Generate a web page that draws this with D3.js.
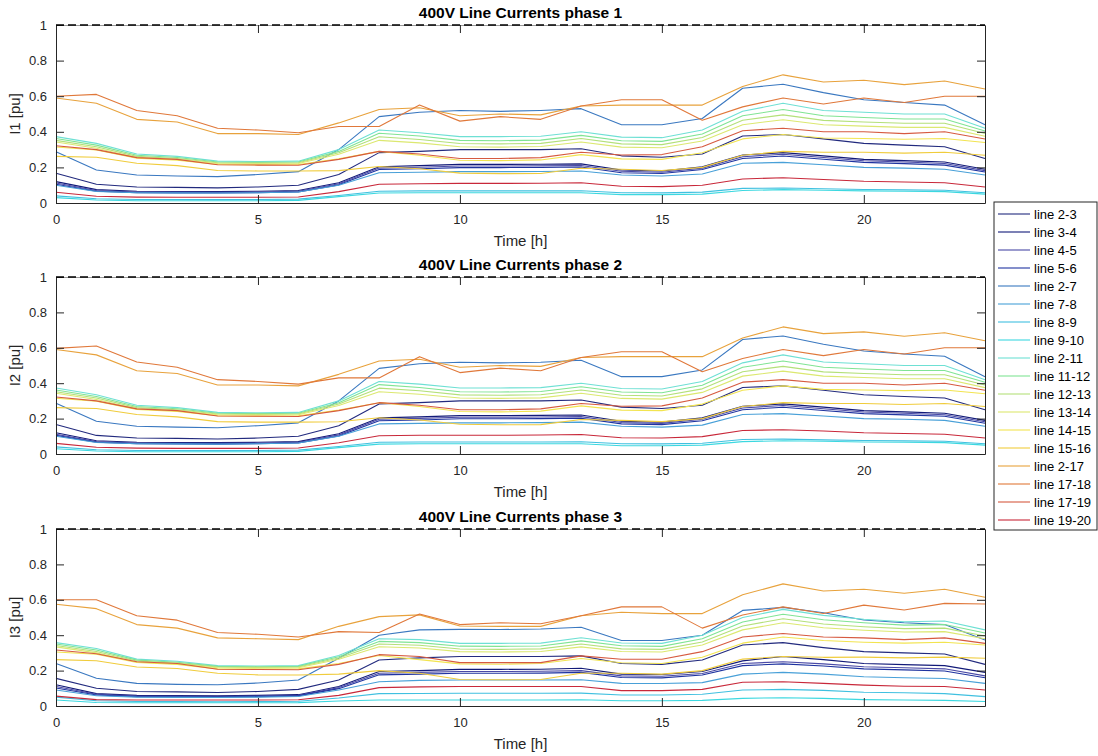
<!DOCTYPE html>
<html>
<head>
<meta charset="utf-8">
<script src="https://cdn.jsdelivr.net/npm/d3@7"></script>
<style>
  body { margin: 0; background: #fff; }
  svg { display: block; }
  text { font-family: "Liberation Sans", Arial, Helvetica, sans-serif; }
</style>
</head>
<body>
<svg id="chart" width="1098" height="756"></svg>
<script>
// Hour of day for each sample
const hours = [0,1,2,3,4,5,6,7,8,9,10,11,12,13,14,15,16,17,18,19,20,21,22,23];

const lineNames = ["line 2-3","line 3-4","line 4-5","line 5-6","line 2-7","line 7-8","line 8-9","line 9-10",
  "line 2-11","line 11-12","line 12-13","line 13-14","line 14-15","line 15-16","line 2-17","line 17-18","line 17-19","line 19-20"];

const lineColors = ["#222a7e","#121a78","#4a4aa6","#1f33a0","#3a78c0","#48a0d8","#40c0e0","#3cd8e0",
  "#6ee0d4","#80e494","#b4e07a","#dce870","#f2e450","#f0cc3c","#e8a23c","#e0783a","#d65a40","#c8283a"];

const phaseTitles = ["400V Line Currents phase 1","400V Line Currents phase 2","400V Line Currents phase 3"];
const yLabels = ["I1 [pu]","I2 [pu]","I3 [pu]"];
const xLabel = "Time [h]";
const xTicks = [0,5,10,15,20];
const yTicks = [0,0.2,0.4,0.6,0.8,1];
const currentLimit = 1;

// Line currents in pu, one row per line (same order as lineNames)
const phase1 = [
  [.167,.105,.090,.088,.085,.090,.100,.160,.283,.290,.300,.300,.300,.305,.265,.257,.275,.376,.385,.360,.335,.325,.316,.250],
  [.120,.075,.066,.065,.064,.066,.070,.114,.204,.210,.217,.217,.218,.220,.185,.180,.204,.270,.283,.265,.245,.238,.230,.190],
  [.112,.070,.062,.061,.060,.062,.066,.108,.196,.201,.208,.208,.209,.211,.178,.173,.196,.260,.274,.256,.237,.230,.222,.182],
  [.105,.066,.058,.057,.056,.058,.062,.102,.188,.192,.199,.199,.200,.202,.170,.166,.188,.250,.264,.246,.228,.221,.213,.174],
  [.288,.185,.157,.152,.148,.160,.176,.300,.485,.510,.520,.515,.520,.530,.440,.440,.475,.645,.667,.620,.580,.565,.550,.440],
  [.100,.065,.058,.057,.056,.058,.062,.100,.170,.173,.176,.176,.177,.180,.157,.152,.163,.223,.228,.215,.200,.196,.190,.157],
  [.040,.024,.020,.020,.019,.020,.022,.042,.066,.068,.068,.068,.068,.069,.058,.057,.061,.082,.084,.080,.076,.074,.072,.058],
  [.030,.017,.013,.013,.013,.013,.015,.036,.056,.058,.058,.058,.058,.058,.047,.047,.050,.070,.075,.072,.068,.066,.064,.050],
  [.373,.335,.275,.262,.235,.233,.235,.300,.410,.395,.373,.373,.375,.400,.370,.367,.410,.515,.560,.520,.510,.500,.500,.420],
  [.362,.325,.268,.256,.230,.228,.230,.290,.392,.376,.352,.350,.353,.380,.350,.346,.388,.490,.525,.490,.480,.472,.472,.405],
  [.352,.316,.262,.250,.226,.224,.226,.282,.372,.357,.334,.332,.335,.362,.332,.328,.368,.465,.495,.464,.455,.448,.448,.390],
  [.343,.308,.256,.245,.222,.220,.222,.274,.352,.338,.316,.314,.317,.343,.314,.310,.348,.440,.468,.440,.432,.425,.425,.375],
  [.315,.298,.252,.241,.216,.214,.216,.248,.290,.268,.240,.238,.242,.272,.248,.245,.282,.360,.385,.365,.362,.358,.362,.340],
  [.262,.257,.223,.210,.183,.180,.180,.182,.205,.192,.168,.165,.166,.195,.190,.183,.200,.268,.290,.285,.285,.280,.285,.268],
  [.590,.560,.470,.455,.390,.390,.385,.450,.525,.535,.490,.500,.495,.545,.550,.550,.550,.655,.720,.680,.690,.665,.685,.640],
  [.600,.610,.520,.490,.420,.410,.395,.430,.430,.550,.460,.485,.470,.545,.580,.580,.465,.540,.590,.556,.590,.565,.600,.600],
  [.322,.300,.255,.245,.215,.213,.212,.245,.290,.275,.250,.250,.255,.285,.270,.272,.316,.406,.420,.400,.400,.390,.400,.360],
  [.060,.038,.033,.032,.032,.032,.034,.064,.105,.108,.110,.110,.111,.114,.094,.092,.100,.135,.142,.132,.122,.118,.114,.090]
];

const phase2 = [
  [.167,.105,.090,.088,.085,.090,.100,.160,.283,.290,.300,.300,.300,.305,.265,.257,.275,.376,.385,.360,.335,.325,.316,.250],
  [.120,.075,.066,.065,.064,.066,.070,.114,.204,.210,.217,.217,.218,.220,.185,.180,.204,.270,.283,.265,.245,.238,.230,.190],
  [.112,.070,.062,.061,.060,.062,.066,.108,.196,.201,.208,.208,.209,.211,.178,.173,.196,.260,.274,.256,.237,.230,.222,.182],
  [.105,.066,.058,.057,.056,.058,.062,.102,.188,.192,.199,.199,.200,.202,.170,.166,.188,.250,.264,.246,.228,.221,.213,.174],
  [.287,.185,.157,.152,.148,.160,.176,.300,.484,.510,.518,.515,.518,.530,.437,.437,.475,.647,.667,.620,.582,.565,.552,.437],
  [.100,.065,.058,.057,.056,.058,.062,.100,.170,.173,.176,.176,.177,.180,.157,.152,.163,.223,.228,.215,.200,.196,.190,.157],
  [.040,.024,.020,.020,.019,.020,.022,.042,.066,.068,.068,.068,.068,.069,.058,.057,.061,.082,.084,.080,.076,.074,.072,.058],
  [.030,.017,.013,.013,.013,.013,.015,.036,.056,.058,.058,.058,.058,.058,.047,.047,.050,.070,.075,.072,.068,.066,.064,.050],
  [.373,.335,.275,.262,.235,.233,.235,.300,.410,.395,.373,.373,.375,.400,.370,.367,.410,.515,.560,.520,.510,.500,.500,.420],
  [.362,.325,.268,.256,.230,.228,.230,.290,.392,.376,.352,.350,.353,.380,.350,.346,.388,.490,.525,.490,.480,.472,.472,.405],
  [.352,.316,.262,.250,.226,.224,.226,.282,.372,.357,.334,.332,.335,.362,.332,.328,.368,.465,.495,.464,.455,.448,.448,.390],
  [.343,.308,.256,.245,.222,.220,.222,.274,.352,.338,.316,.314,.317,.343,.314,.310,.348,.440,.468,.440,.432,.425,.425,.375],
  [.315,.298,.252,.241,.216,.214,.216,.248,.290,.268,.240,.238,.242,.272,.248,.245,.282,.360,.385,.365,.362,.358,.362,.340],
  [.262,.257,.223,.210,.183,.180,.180,.182,.205,.192,.168,.165,.166,.195,.190,.183,.200,.268,.290,.285,.285,.280,.285,.268],
  [.590,.560,.470,.455,.390,.390,.385,.450,.525,.535,.490,.500,.495,.545,.550,.550,.550,.655,.718,.680,.690,.665,.685,.640],
  [.597,.610,.520,.490,.420,.410,.395,.430,.430,.550,.460,.485,.470,.545,.578,.578,.465,.540,.590,.556,.590,.565,.600,.600],
  [.322,.300,.255,.245,.215,.213,.212,.245,.290,.275,.250,.250,.255,.285,.270,.272,.316,.406,.420,.400,.400,.390,.400,.360],
  [.060,.038,.033,.032,.032,.032,.034,.064,.103,.106,.106,.106,.107,.110,.092,.090,.098,.133,.137,.130,.120,.116,.112,.090]
];

const phase3 = [
  [.156,.100,.082,.080,.076,.082,.094,.147,.260,.272,.280,.280,.280,.283,.240,.235,.260,.345,.358,.330,.307,.300,.294,.235],
  [.120,.070,.060,.059,.058,.060,.064,.110,.195,.200,.207,.207,.208,.213,.180,.178,.195,.255,.280,.262,.240,.234,.228,.190],
  [.110,.066,.056,.055,.054,.056,.060,.104,.185,.190,.195,.195,.196,.200,.170,.168,.184,.240,.250,.238,.222,.216,.210,.170],
  [.102,.062,.053,.052,.051,.053,.057,.098,.176,.180,.185,.185,.186,.190,.161,.159,.175,.228,.238,.226,.210,.204,.198,.160],
  [.240,.157,.128,.122,.120,.130,.147,.270,.400,.430,.433,.432,.435,.445,.370,.370,.400,.540,.557,.527,.486,.470,.460,.373],
  [.090,.058,.050,.049,.048,.050,.054,.090,.137,.145,.147,.147,.147,.148,.128,.127,.132,.180,.190,.180,.165,.160,.155,.128],
  [.050,.030,.025,.025,.024,.025,.027,.045,.070,.071,.072,.072,.072,.073,.062,.062,.066,.090,.094,.088,.078,.075,.070,.053],
  [.034,.020,.018,.018,.018,.018,.019,.028,.034,.034,.034,.034,.034,.035,.030,.030,.032,.043,.047,.043,.036,.034,.032,.025],
  [.358,.325,.265,.253,.228,.226,.228,.285,.380,.375,.354,.354,.355,.386,.356,.354,.400,.500,.546,.512,.490,.476,.480,.430],
  [.350,.316,.259,.247,.224,.222,.224,.278,.365,.358,.338,.337,.339,.368,.340,.337,.380,.475,.518,.487,.470,.457,.460,.412],
  [.342,.308,.254,.242,.220,.218,.220,.271,.350,.343,.322,.320,.323,.350,.323,.320,.362,.452,.493,.463,.448,.437,.440,.395],
  [.334,.300,.249,.237,.216,.214,.216,.264,.335,.328,.307,.305,.308,.334,.308,.305,.345,.430,.470,.442,.428,.418,.420,.380],
  [.305,.292,.246,.235,.210,.208,.210,.240,.285,.262,.238,.236,.240,.268,.244,.240,.275,.355,.390,.370,.360,.355,.360,.345],
  [.262,.256,.220,.212,.185,.176,.175,.180,.200,.185,.150,.148,.150,.185,.185,.180,.200,.265,.280,.275,.276,.272,.276,.270],
  [.575,.550,.460,.440,.385,.380,.375,.450,.505,.515,.452,.450,.450,.510,.530,.522,.522,.628,.690,.650,.660,.637,.660,.614],
  [.600,.600,.510,.485,.415,.405,.390,.420,.415,.520,.460,.470,.465,.510,.560,.560,.440,.514,.560,.523,.570,.542,.580,.576],
  [.316,.295,.250,.240,.208,.206,.205,.235,.290,.280,.245,.245,.245,.283,.264,.264,.307,.390,.410,.390,.385,.375,.385,.354],
  [.056,.036,.034,.034,.034,.034,.035,.060,.104,.108,.110,.110,.110,.110,.087,.087,.094,.134,.137,.128,.118,.112,.110,.090]
];

const phases = [phase1, phase2, phase3];

// ---- layout ----
const svg = d3.select("#chart");
const plotLeft = 56, plotRight = 985;
const panels = [{top: 25, bottom: 203}, {top: 277, bottom: 454}, {top: 529, bottom: 706}];
const axisColor = "#262626";
const tickLen = 8;

const x = d3.scaleLinear().domain([0, 23]).range([plotLeft, plotRight]);

panels.forEach((p, pi) => {
  const y = d3.scaleLinear().domain([0, 1]).range([p.bottom, p.top]);
  const g = svg.append("g");

  // data lines
  const line = d3.line().x((d, i) => x(hours[i])).y(d => y(d));
  g.append("g").selectAll("path")
    .data(phases[pi])
    .join("path")
    .attr("d", line)
    .attr("fill", "none")
    .attr("stroke", (d, i) => lineColors[i])
    .attr("stroke-width", 1.1)
    .attr("stroke-linejoin", "round");

  // axes with inward ticks on all four sides
  const styleAxis = sel => {
    sel.selectAll(".domain").attr("stroke", axisColor).attr("stroke-width", 1);
    sel.selectAll(".tick line").attr("stroke", axisColor).attr("stroke-width", 1);
    sel.selectAll(".tick text").attr("fill", axisColor).style("font-size", "13px")
      .style("font-family", '"Liberation Sans", Arial, sans-serif');
  };

  g.append("g").attr("transform", `translate(0,${p.bottom})`)
    .call(d3.axisBottom(x).tickValues(xTicks).tickSizeInner(-tickLen).tickSizeOuter(0).tickPadding(12).tickFormat(d3.format("d")))
    .call(styleAxis);
  g.append("g").attr("transform", `translate(0,${p.top})`)
    .call(d3.axisTop(x).tickValues(xTicks).tickSizeInner(-tickLen).tickSizeOuter(0).tickFormat(""))
    .call(styleAxis)
    .call(s => s.select(".domain").attr("stroke", "#9a9a9a"));
  g.append("g").attr("transform", `translate(${plotLeft},0)`)
    .call(d3.axisLeft(y).tickValues(yTicks).tickSizeInner(-tickLen).tickSizeOuter(0).tickPadding(9).tickFormat(d3.format("~g")))
    .call(styleAxis);
  g.append("g").attr("transform", `translate(${plotRight},0)`)
    .call(d3.axisRight(y).tickValues(yTicks).tickSizeInner(-tickLen).tickSizeOuter(0).tickFormat(""))
    .call(styleAxis);

  // rated current limit
  g.append("line")
    .attr("x1", x(0)).attr("x2", x(23))
    .attr("y1", y(currentLimit)).attr("y2", y(currentLimit))
    .attr("stroke", "#000").attr("stroke-width", 1.4)
    .attr("stroke-dasharray", "8,4");

  // title and axis labels
  g.append("text")
    .attr("x", (plotLeft + plotRight) / 2).attr("y", p.top - 7)
    .attr("text-anchor", "middle")
    .style("font-size", "15.5px").style("font-weight", "bold")
    .attr("fill", "#000")
    .text(phaseTitles[pi]);

  g.append("text")
    .attr("x", (plotLeft + plotRight) / 2).attr("y", p.bottom + 43)
    .attr("text-anchor", "middle")
    .style("font-size", "15px")
    .attr("fill", axisColor)
    .text(xLabel);

  g.append("text")
    .attr("transform", `translate(20,${(p.top + p.bottom) / 2}) rotate(-90)`)
    .attr("text-anchor", "middle")
    .style("font-size", "15px")
    .attr("fill", axisColor)
    .text(yLabels[pi]);
});

// ---- legend ----
const legend = svg.append("g");
const legX = 994, legY = 202, legW = 103, rowH = 18, firstRow = 214;
legend.append("rect")
  .attr("x", legX).attr("y", legY)
  .attr("width", legW).attr("height", firstRow - legY + rowH * (lineNames.length - 1) + 10)
  .attr("fill", "#fff").attr("stroke", axisColor).attr("stroke-width", 1);

const rows = legend.selectAll("g.row").data(lineNames).join("g")
  .attr("class", "row")
  .attr("transform", (d, i) => `translate(0,${firstRow + i * rowH})`);
rows.append("line")
  .attr("x1", legX + 4).attr("x2", legX + 36)
  .attr("stroke", (d, i) => lineColors[i]).attr("stroke-width", 1.1);
rows.append("text")
  .attr("x", legX + 40).attr("dy", "0.35em")
  .style("font-size", "13px")
  .attr("fill", "#000")
  .text(d => d);
</script>
</body>
</html>
